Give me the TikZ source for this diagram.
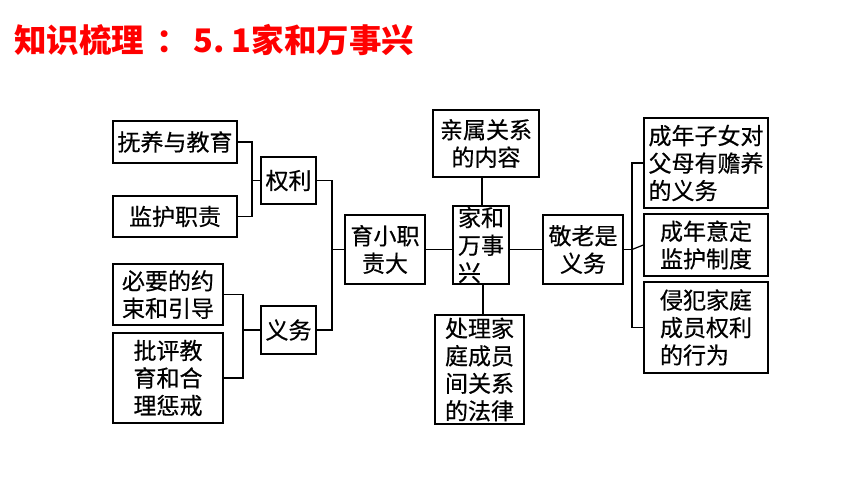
\documentclass[tikz,border=0pt]{standalone}
\usepackage{fontspec}
\newfontfamily\cjk{Noto Sans CJK SC}
\newfontfamily\cjkb[FakeBold=0.5]{Noto Sans CJK SC}
\begin{document}
\begin{tikzpicture}[x=1pt,y=-1pt,
  box/.style={draw=black,line width=1.3pt,inner sep=0pt,font=\cjkb\fontsize{23}{27.5}\selectfont,align=center},
  lbox/.style={box,align=left},
  link/.style={draw=black,line width=1.2pt}]
\useasboundingbox (0,0) rectangle (860,484);
\node[anchor=west,text=red,font=\cjk\bfseries\fontsize{32.5}{36}\selectfont,inner sep=0pt] (title) at (14,40) {知识梳理\hspace{12pt}：\hspace{5pt}5.\hspace{7pt}1家和万事兴};
% left
\node[box,minimum width=124,minimum height=42] (fy) at (175,142) {抚养与教育};
\node[box,minimum width=124,minimum height=41] (jh) at (175,216.5) {监护职责};
\node[box,minimum width=55,minimum height=47] (ql) at (288.5,180.5) {权利};
\node[box,minimum width=110,minimum height=61] (by) at (168,294.5) {必要的约\\束和引导};
\node[box,minimum width=110,minimum height=90] (pp) at (168,378) {批评教\\育和合\\理惩戒};
\node[box,minimum width=55,minimum height=48] (yw) at (288.5,330) {义务};
\node[box,minimum width=80,minimum height=69] (yx) at (385,249.5) {育小职\\责大};
% center
\node[box,minimum width=106,minimum height=67] (qs) at (486,143.5) {亲属关系\\的内容};
\node[lbox,minimum width=56,minimum height=78] (jt) at (481,245) {家和\\万事\\兴};
\node[box,minimum width=89,minimum height=109] (cl) at (479.5,369.5) {处理家\\庭成员\\间关系\\的法律};
\node[box,minimum width=80,minimum height=69] (jl) at (583,249.5) {敬老是\\义务};
% right
\node[lbox,minimum width=124,minimum height=90] (cn) at (706,163) {成年子女对\\父母有赡养\\的义务};
\node[box,minimum width=124,minimum height=62] (yd) at (706,245) {成年意定\\监护制度};
\node[lbox,minimum width=124,minimum height=91] (qf) at (706,327.5) {侵犯家庭\\成员权利\\的行为};
% junctions
\coordinate (j1) at (252,180.5);
\coordinate (j2) at (243,330);
\coordinate (j3) at (332,249.5);
\coordinate (j4) at (632,249.5);
% connectors
\draw[link] (fy.east) -- (fy.east -| j1) -- (jh.east -| j1) -- (jh.east);
\draw[link] (j1) -- (ql.west);
\draw[link] (by.east) -- (by.east -| j2) -- (pp.east -| j2) -- (pp.east);
\draw[link] (j2) -- (yw.west);
\draw[link] (ql.east) -- (ql.east -| j3) -- (yw.east -| j3) -- (yw.east);
\draw[link] (j3) -- (yx.west);
\draw[link] (yx.east) -- (jt.west |- yx.east);
\draw[link] (jt.north -| 482,0) -- (qs.south -| 482,0);
\draw[link] (jt.south -| 483,0) -- (cl.north -| 483,0);
\draw[link] (jt.east |- jl.west) -- (jl.west);
\draw[link] (jl.east) -- (j4);
\draw[link] (cn.west) -- (cn.west -| j4) -- (qf.west -| j4) -- (qf.west);
\draw[link] (j4) -- (yd.west);
\end{tikzpicture}
\end{document}
